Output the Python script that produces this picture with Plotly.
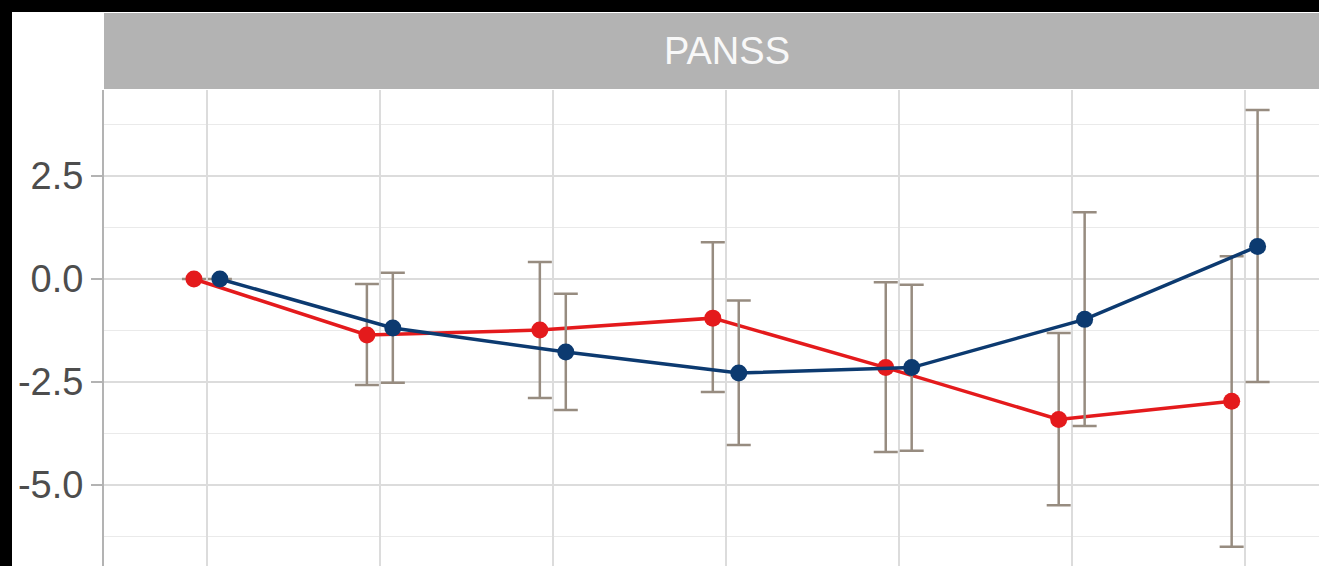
import plotly.graph_objects as go

# ---- data ----
timepoints = [1, 2, 3, 4, 5, 6, 7]
panel_title = "PANSS"

red_mean = [0.0, -1.36, -1.24, -0.95, -2.15, -3.41, -2.97]
red_upper = [None, -0.12, 0.41, 0.89, -0.08, -1.31, 0.55]
red_lower = [None, -2.57, -2.89, -2.74, -4.20, -5.49, -6.50]

blue_mean = [0.0, -1.19, -1.77, -2.28, -2.15, -0.98, 0.79]
blue_upper = [None, 0.15, -0.36, -0.52, -0.14, 1.62, 4.10]
blue_lower = [None, -2.52, -3.18, -4.03, -4.17, -3.57, -2.50]

y_ticks = [-5.0, -2.5, 0.0, 2.5]

# ---- styling ----
RED = "#E41A1C"
NAVY = "#0C3A70"
ERR = "#978C80"
DODGE = 0.075
FONT = "Liberation Sans, Arial, sans-serif"


def err_arrays(mean, upper, lower):
    plus, minus = [], []
    for m, u, l in zip(mean, upper, lower):
        plus.append(None if u is None else u - m)
        minus.append(None if l is None else m - l)
    return plus, minus


fig = go.Figure()
for mean, up, lo, color, off in [
    (red_mean, red_upper, red_lower, RED, -DODGE),
    (blue_mean, blue_upper, blue_lower, NAVY, DODGE),
]:
    plus, minus = err_arrays(mean, up, lo)
    fig.add_trace(go.Scatter(
        x=[t + off for t in timepoints],
        y=mean,
        mode="lines+markers",
        line=dict(color=color, width=3.5),
        marker=dict(color=color, size=17),
        error_y=dict(type="data", symmetric=False, array=plus, arrayminus=minus,
                     color=ERR, thickness=2.5, width=12),
        showlegend=False,
    ))

# plot area: x 104 -> 1319, y 90 -> 566
W, H = 1319, 566
L, T = 104, 90
pw, ph = W - L, H - T
fx = lambda px: (px - L) / pw
fy = lambda py: (H - py) / ph

shapes = [
    dict(type="rect", xref="paper", yref="paper", x0=fx(12), x1=0, y0=0, y1=fy(12),
         fillcolor="white", line_width=0, layer="below"),
    dict(type="rect", xref="paper", yref="paper", x0=0, x1=1, y0=1, y1=fy(12),
         fillcolor="white", line_width=0, layer="below"),
    dict(type="rect", xref="paper", yref="paper", x0=0, x1=1.02, y0=fy(89), y1=fy(13),
         fillcolor="#B3B3B3", line_width=0, layer="below"),
]

fig.update_layout(
    width=W, height=H,
    margin=dict(l=L, r=0, t=T, b=0, pad=0),
    paper_bgcolor="black",
    plot_bgcolor="white",
    shapes=shapes,
    annotations=[dict(text=panel_title, xref="paper", yref="paper", x=(727 - L) / pw,
                      y=(fy(13) + fy(89)) / 2, showarrow=False, xanchor="center",
                      yanchor="middle", font=dict(family=FONT, size=38, color="#F8F8F8"))],
    font=dict(family=FONT),
)

fig.update_xaxes(
    range=[0.405, 7.43],
    tickvals=timepoints,
    showticklabels=False,
    ticks="",
    showgrid=True, gridcolor="#DCDCDC", gridwidth=2,
    zeroline=False, showline=False,
)
fig.update_yaxes(
    range=[-6.966, 4.587],
    tickvals=y_ticks,
    ticktext=[f"{v:.1f}" for v in y_ticks],
    ticks="outside", ticklen=11, tickwidth=2, tickcolor="#B3B3B3",
    tickfont=dict(family=FONT, size=38, color="#4D4D4D"),
    showgrid=True, gridcolor="#DCDCDC", gridwidth=2,
    minor=dict(dtick=1.25, tick0=0, showgrid=True, gridcolor="#EAEAEA", gridwidth=1.3, ticks=""),
    zeroline=False,
    showline=True, linecolor="#B3B3B3", linewidth=2,
)

fig.write_html(
    "out.html",
    config={"displayModeBar": False},
    post_script="document.body.style.margin='0';document.body.style.background='black';",
)
